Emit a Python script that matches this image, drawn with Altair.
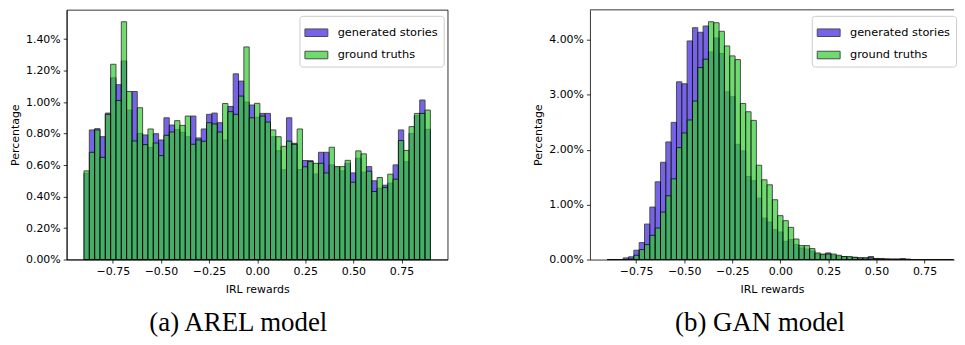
import altair as alt
import numpy as np
import pandas as pd

# ---- data ----
N_BINS = 65
BIN_LO, BIN_HI = -0.9, 0.9
SERIES = ["generated stories", "ground truths"]

AREL_GEN = [0.548, 0.823, 0.831, 0.780, 0.930, 1.154, 1.110, 1.261, 0.949, 1.067,
            0.801, 0.791, 0.711, 0.799, 0.759, 0.900, 0.854, 0.825, 0.808, 0.780,
            0.911, 0.772, 0.829, 0.922, 0.930, 0.869, 0.759, 0.972, 1.179, 1.133,
            1.000, 0.981, 0.903, 0.928, 0.928, 0.780, 0.691, 0.570, 0.900, 0.738,
            0.571, 0.629, 0.628, 0.543, 0.681, 0.681, 0.601, 0.585, 0.563, 0.611,
            0.550, 0.643, 0.555, 0.590, 0.500, 0.453, 0.472, 0.485, 0.601, 0.823,
            0.621, 0.801, 0.913, 1.013, 0.827]
AREL_GT = [0.563, 0.681, 0.823, 0.649, 0.922, 1.240, 1.010, 1.510, 1.067, 0.753,
           0.964, 0.730, 0.829, 0.740, 0.660, 0.789, 0.810, 0.882, 0.852, 0.911,
           0.732, 0.759, 0.751, 0.869, 0.861, 0.810, 0.991, 0.939, 0.922, 1.038,
           1.350, 0.900, 0.992, 0.911, 0.873, 0.823, 0.780, 0.719, 0.752, 0.732,
           0.829, 0.589, 0.622, 0.611, 0.611, 0.550, 0.713, 0.591, 0.590, 0.630,
           0.491, 0.690, 0.671, 0.561, 0.432, 0.521, 0.458, 0.542, 0.510, 0.756,
           0.693, 0.844, 0.928, 0.928, 0.949]

GAN_GEN = [0.0, 0.0, 0.0, 0.03, 0.05, 0.169, 0.308, 0.646, 0.955, 1.415,
           1.771, 2.141, 2.497, 3.236, 3.200, 3.980, 4.221, 4.138, 4.252, 3.780,
           4.034, 3.750, 3.054, 2.964, 2.098, 1.978, 1.512, 1.434, 1.118, 0.755,
           0.682, 0.544, 0.501, 0.332, 0.363, 0.272, 0.21, 0.19, 0.157, 0.10,
           0.09, 0.12, 0.08, 0.06, 0.05, 0.04, 0.04, 0.03, 0.03, 0.055,
           0.015, 0.01, 0.01, 0.005, 0.005, 0.015, 0.005, 0.0, 0.0, 0.0,
           0.0, 0.0, 0.0, 0.0, 0.0]
GAN_GT = [0.0, 0.0, 0.0, 0.0, 0.01, 0.078, 0.181, 0.272, 0.441, 0.574,
          0.864, 1.161, 1.470, 2.038, 2.305, 2.541, 2.886, 3.496, 3.648, 4.330,
          4.312, 4.156, 3.889, 3.708, 3.641, 2.842, 2.691, 2.534, 1.717, 1.452,
          1.361, 1.089, 0.799, 0.708, 0.586, 0.374, 0.254, 0.254, 0.200, 0.12,
          0.10, 0.10, 0.10, 0.078, 0.055, 0.055, 0.04, 0.03, 0.03, 0.03,
          0.02, 0.02, 0.01, 0.01, 0.01, 0.01, 0.005, 0.0, 0.0, 0.0,
          0.0, 0.0, 0.0, 0.0, 0.0]

X_TICKS = [-0.75, -0.5, -0.25, 0.0, 0.25, 0.5, 0.75]
AREL_Y_TICKS = [0.0, 0.2, 0.4, 0.6, 0.8, 1.0, 1.2, 1.4]
GAN_Y_TICKS = [0.0, 1.0, 2.0, 3.0, 4.0]
CAPTIONS = ["(a) AREL model", "(b) GAN model"]

BLUE = "#3b22e1"
GREEN = "#32cd32"
PLOT_H = 251

edges = np.linspace(BIN_LO, BIN_HI, N_BINS + 1)


def make_frame(gen, gt):
    rows = []
    for name, vals in zip(SERIES, [gen, gt]):
        for i, v in enumerate(vals):
            rows.append({"start": edges[i], "end": edges[i + 1],
                         "pct": v, "base": 0.0, "series": name})
    return pd.DataFrame(rows)


def bars(df, xdom, ydom, yticks, legend_x):
    return alt.Chart(df).mark_bar(
        opacity=0.7, stroke="black", strokeWidth=1
    ).encode(
        x=alt.X("start:Q",
                scale=alt.Scale(domain=xdom, nice=False, zero=False),
                axis=alt.Axis(values=X_TICKS, format=".2f", title="IRL rewards",
                              grid=False, titlePadding=7)),
        x2="end:Q",
        y=alt.Y("pct:Q", stack=None,
                scale=alt.Scale(domain=ydom, nice=False, zero=True),
                axis=alt.Axis(values=yticks,
                              labelExpr="format(datum.value, '.2f') + '%'",
                              title="Percentage", grid=False, titlePadding=5.3)),
        y2="base:Q",
        color=alt.Color("series:N",
                        scale=alt.Scale(domain=SERIES, range=[BLUE, GREEN]),
                        legend=alt.Legend(
                            title=None, orient="none", legendX=legend_x, legendY=6,
                            symbolType="M-1,-0.33H1V0.33H-1Z", symbolSize=529,
                            symbolStrokeColor="black", symbolStrokeWidth=1,
                            symbolOpacity=0.7,
                            labelFont="DejaVu Sans", labelFontSize=11.4,
                            labelColor="black", labelOffset=9.4,
                            padding=5, rowPadding=4.4,
                            fillColor="rgba(255,255,255,0.8)",
                            strokeColor="#cccccc", cornerRadius=3)),
    )


def caption(text, dx):
    return alt.TitleParams(text=text, orient="bottom", anchor="middle",
                           frame="group", dx=dx, offset=15,
                           font="Liberation Serif", fontSize=27,
                           fontWeight="normal", color="black")


LEFT_W = 383
RIGHT_W = 366

left = bars(make_frame(AREL_GEN, AREL_GT), [-0.99, 0.99],
            [0, 1.5855], AREL_Y_TICKS, 234).properties(
    width=LEFT_W, height=PLOT_H, title=caption(CAPTIONS[0], -19),
    view=alt.ViewBackground(stroke="black", strokeWidth=0.8),
)

# right panel: the reference is cropped at the page edge, so only the
# visible part of the x range is drawn and the right frame edge is absent
right_bars = bars(make_frame(GAN_GEN, GAN_GT), [-0.99, 0.903],
                  [0, 4.5465], GAN_Y_TICKS, 223)
top_edge = alt.Chart(pd.DataFrame({"k": [0]})).mark_rule(
    color="black", strokeWidth=0.8
).encode(x=alt.value(0), x2=alt.value(RIGHT_W), y=alt.value(0))
right = alt.layer(right_bars, top_edge).properties(
    width=RIGHT_W, height=PLOT_H, title=caption(CAPTIONS[1], -12),
    view=alt.ViewBackground(stroke="transparent"),
)

chart = alt.hconcat(left, right, spacing=83).resolve_scale(
    color="independent"
).resolve_legend(
    color="independent"
).properties(
    padding={"left": 0, "top": 0, "right": 0, "bottom": 0}
).configure_axis(
    domainColor="black", domainWidth=0.8,
    tickColor="black", tickWidth=0.8, tickSize=3.5,
    labelFont="DejaVu Sans", labelFontSize=11, labelColor="black", labelPadding=3,
    titleFont="DejaVu Sans", titleFontSize=11, titleFontWeight="normal",
    titleColor="black",
)

chart.save("out.html", embed_options={"renderer": "svg", "actions": False})
